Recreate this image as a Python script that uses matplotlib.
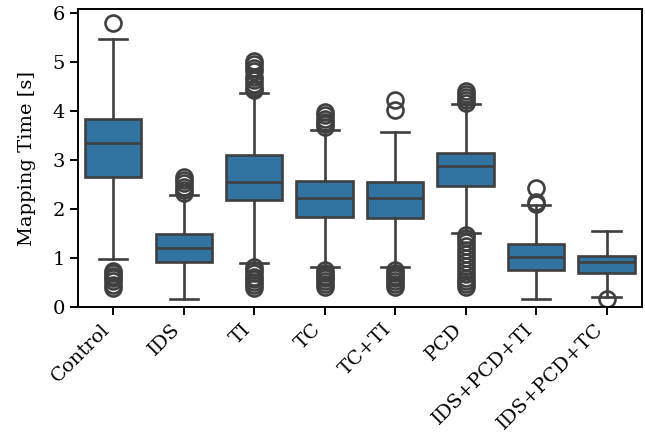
import matplotlib
matplotlib.use("Agg")
import matplotlib.pyplot as plt

plt.rcParams['font.family'] = ['DejaVu Serif']

categories = ["Control", "IDS", "TI", "TC", "TC+TI", "PCD", "IDS+PCD+TI", "IDS+PCD+TC"]

# Summary statistics per condition (seconds)
q1 = [2.65, 0.92, 2.18, 1.84, 1.82, 2.47, 0.75, 0.69]
median = [3.35, 1.195, 2.55, 2.23, 2.23, 2.88, 1.01, 0.91]
q3 = [3.83, 1.48, 3.09, 2.57, 2.54, 3.13, 1.28, 1.045]
whisker_low = [0.98, 0.16, 0.89, 0.81, 0.81, 1.50, 0.16, 0.21]
whisker_high = [5.46, 2.29, 4.37, 3.60, 3.57, 4.13, 2.08, 1.55]

# Outlying mapping times per condition
outliers = [
    [5.79, 0.38, 0.45, 0.52, 0.58, 0.64, 0.70, 0.74],
    [2.33, 2.38, 2.45, 2.52, 2.58, 2.64],
    [4.42, 4.47, 4.55, 4.62, 4.68, 4.80, 4.88, 4.95, 5.02,
     0.38, 0.44, 0.50, 0.56, 0.62, 0.70, 0.76, 0.82],
    [3.66, 3.72, 3.78, 3.84, 3.92, 3.98,
     0.40, 0.46, 0.52, 0.58, 0.64, 0.70, 0.75],
    [4.01, 4.22, 0.40, 0.46, 0.52, 0.58, 0.64, 0.70, 0.75],
    [4.16, 4.22, 4.28, 4.34, 4.40,
     0.40, 0.46, 0.52, 0.60, 0.68, 0.76, 0.84, 0.92, 1.00, 1.08, 1.16,
     1.24, 1.32, 1.40, 1.46],
    [2.10, 2.14, 2.42],
    [0.17],
]

box_color = "#3274a1"
edge_color = "#3f3f3f"

stats = []
for i, name in enumerate(categories):
    stats.append(dict(label=name, q1=q1[i], med=median[i], q3=q3[i],
                      whislo=whisker_low[i], whishi=whisker_high[i],
                      fliers=outliers[i]))

fig = plt.figure(figsize=(6.45, 4.36), dpi=100)
ax = fig.add_axes([0.121, 0.296, 0.874, 0.683])

lw = 1.9
ax.bxp(stats, positions=range(len(categories)), widths=0.8, patch_artist=True,
       boxprops=dict(facecolor=box_color, edgecolor=edge_color, linewidth=lw),
       medianprops=dict(color=edge_color, linewidth=lw),
       whiskerprops=dict(color=edge_color, linewidth=lw),
       capprops=dict(color=edge_color, linewidth=lw),
       flierprops=dict(marker="o", markerfacecolor="none",
                       markeredgecolor=edge_color, markersize=11.5,
                       markeredgewidth=1.9),
       capwidths=0.4)

ax.set_xlim(-0.5, len(categories) - 0.5)
ax.set_ylim(0, 6.07)
ax.set_yticks(range(0, 7))
ax.set_xticks(range(len(categories)))
ax.set_xticklabels(categories, rotation=45, ha="right")
ax.tick_params(axis="both", labelsize=14, width=1.4, length=6)
ax.set_ylabel("Mapping Time [s]", fontsize=14, labelpad=12)
for s in ax.spines.values():
    s.set_linewidth(1.4)

fig.savefig("out.png", dpi=100)
